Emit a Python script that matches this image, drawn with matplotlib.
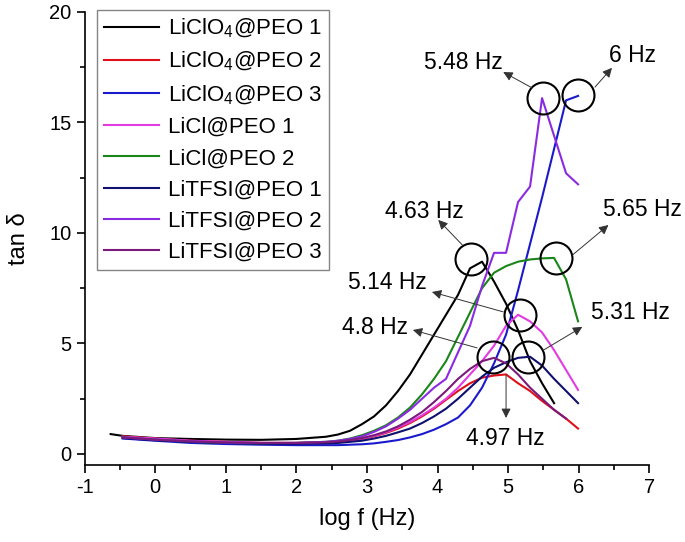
import numpy as np
import matplotlib
matplotlib.use("Agg")
import matplotlib.pyplot as plt

plt.rcParams['font.family'] = ['Liberation Sans', 'DejaVu Sans']
plt.rcParams['mathtext.default'] = 'regular'
plt.rcParams['axes.unicode_minus'] = False

# log f grid (Hz) shared by all samples
logf = [-0.63, -0.46, 0.0, 0.5, 1.0, 1.5, 2.0, 2.42, 2.59, 2.76, 2.93, 3.10,
        3.27, 3.44, 3.61, 3.78, 3.95, 4.12, 4.29, 4.46, 4.63, 4.80, 4.97,
        5.14, 5.31, 5.48, 5.65, 5.82, 5.99]

nan = np.nan
liclo4_1 = [0.9, 0.82, 0.72, 0.68, 0.65, 0.64, 0.68, 0.78, 0.88, 1.05, 1.35, 1.7,
            2.2, 2.85, 3.6, 4.5, 5.4, 6.3, 7.2, 8.4, 8.7, 7.8, 6.8,
            5.6, 4.2, 3.2, 2.3, nan, nan]
liclo4_2 = [nan, 0.8, 0.7, 0.6, 0.55, 0.5, 0.5, 0.52, 0.55, 0.6, 0.68, 0.8,
            0.95, 1.15, 1.4, 1.7, 2.05, 2.45, 2.85, 3.2, 3.45, 3.55, 3.6,
            3.2, 2.85, 2.4, 2.0, 1.6, 1.15]
liclo4_3 = [nan, 0.7, 0.6, 0.5, 0.45, 0.42, 0.4, 0.4, 0.4, 0.42, 0.44, 0.48,
            0.55, 0.63, 0.75, 0.9, 1.1, 1.35, 1.65, 2.2, 3.0, 4.1, 5.4,
            7.4, 9.5, 11.6, 13.8, 16.0, 16.2]
licl_1 = [nan, 0.78, 0.7, 0.6, 0.55, 0.5, 0.5, 0.52, 0.56, 0.62, 0.7, 0.82,
          0.98, 1.2, 1.45, 1.75, 2.1, 2.5, 3.0, 3.6, 4.2, 4.9, 5.8,
          6.3, 6.0, 5.5, 4.7, 3.8, 2.9]
licl_2 = [nan, 0.75, 0.65, 0.55, 0.5, 0.48, 0.5, 0.55, 0.6, 0.7, 0.85, 1.05,
          1.3, 1.65, 2.1, 2.7, 3.4, 4.2, 5.3, 6.4, 7.5, 8.2, 8.5,
          8.7, 8.8, 8.85, 8.87, 7.9, 6.0]
litfsi_1 = [nan, 0.72, 0.62, 0.55, 0.5, 0.47, 0.46, 0.48, 0.5, 0.55, 0.6, 0.7,
            0.82, 0.98, 1.15, 1.4, 1.7, 2.05, 2.5, 3.0, 3.5, 3.9, 4.15,
            4.35, 4.4, 4.0, 3.4, 2.85, 2.3]
litfsi_2 = [nan, 0.75, 0.65, 0.58, 0.52, 0.5, 0.5, 0.55, 0.6, 0.68, 0.8, 1.0,
            1.25, 1.6, 2.0, 2.5, 3.0, 3.4, 4.6, 5.8, 7.6, 9.1, 9.1,
            11.4, 12.1, 16.1, 14.4, 12.7, 12.2]
litfsi_3 = [nan, 0.75, 0.65, 0.57, 0.52, 0.5, 0.5, 0.53, 0.57, 0.63, 0.72, 0.85,
            1.02, 1.25, 1.55, 1.9, 2.35, 2.85, 3.4, 3.85, 4.2, 4.35, 4.1,
            3.6, 3.0, 2.5, 2.0, 1.6, nan]

labels = [r'LiClO$_4$@PEO 1', r'LiClO$_4$@PEO 2', r'LiClO$_4$@PEO 3',
          'LiCl@PEO 1', 'LiCl@PEO 2', 'LiTFSI@PEO 1', 'LiTFSI@PEO 2', 'LiTFSI@PEO 3']
series = [liclo4_1, liclo4_2, liclo4_3, licl_1, licl_2, litfsi_1, litfsi_2, litfsi_3]
colors = ['#000000', '#e0101a', '#1a1acc', '#e23be2', '#1a861a', '#10106e', '#8a2be2', '#7a1a7a']

# annotations: circle centres, arrow tail/head, label position, label
circles = [(5.50, 16.1), (5.99, 16.24), (4.48, 8.82), (5.68, 8.87),
           (5.17, 6.29), (4.79, 4.39), (5.28, 4.39)]
notes = [
    ('5.48 Hz', (5.34, 16.56), (4.93, 17.28), (4.36, 17.69)),
    ('6 Hz', (6.23, 16.6), (6.47, 17.47), (6.76, 18.05)),
    ('4.63 Hz', (4.35, 9.46), (4.01, 10.59), (3.82, 10.95)),
    ('5.65 Hz', (5.91, 9.0), (6.42, 10.36), (6.9, 11.04)),
    ('5.14 Hz', (4.93, 6.43), (3.92, 7.33), (3.29, 7.74)),
    ('4.8 Hz', (4.56, 4.8), (3.65, 5.61), (3.12, 5.7)),
    ('5.31 Hz', (5.5, 4.7), (6.05, 5.75), (6.73, 6.38)),
    ('4.97 Hz', (4.97, 3.57), (4.97, 1.63), (4.96, 0.72)),
]

fig = plt.figure(figsize=(6.85, 5.42), dpi=100)
ax = fig.add_axes([0.1234, 0.142, 0.8246, 0.836])

for y, lab, c in zip(series, labels, colors):
    ax.plot(logf, y, color=c, lw=1.5, label=lab)

for cx, cy in circles:
    ax.plot(cx, cy, 'o', ms=23, mfc='none', mec='k', mew=1.5, clip_on=False)

for txt, tail, head, pos in notes:
    ax.annotate('', xy=head, xytext=tail, annotation_clip=False,
                arrowprops=dict(arrowstyle='-|>', color='#333333', lw=0.7,
                                mutation_scale=14, shrinkA=0, shrinkB=0))
    ax.text(pos[0], pos[1], txt, fontsize=16.5, ha='center', va='center')

ax.set_xlim(-1, 7)
ax.set_ylim(-0.5, 20)
ax.set_xticks(range(-1, 8))
ax.set_yticks([0, 5, 10, 15, 20])
ax.set_xticks(np.arange(-0.5, 7, 1), minor=True)
ax.set_yticks([2.5, 7.5, 12.5, 17.5], minor=True)
ax.tick_params(which='major', direction='out', length=6, width=1.2, labelsize=14.5)
ax.tick_params(which='minor', direction='out', length=3.5, width=1.2)
ax.spines['top'].set_visible(False)
ax.spines['right'].set_visible(False)
ax.spines['left'].set_linewidth(1.2)
ax.spines['bottom'].set_linewidth(1.2)

ax.set_xlabel('log f (Hz)', fontsize=17, labelpad=8)
ax.set_ylabel(r'tan δ', fontsize=17, labelpad=14)

leg = ax.legend(loc='upper left', bbox_to_anchor=(0.022, 1.004), fontsize=16,
                frameon=True, fancybox=False, edgecolor='#666666',
                handlelength=2.5, handletextpad=0.4, labelspacing=0.46,
                borderpad=0.3, borderaxespad=0)
leg.get_frame().set_linewidth(1.0)

fig.savefig('out.png', dpi=100)
